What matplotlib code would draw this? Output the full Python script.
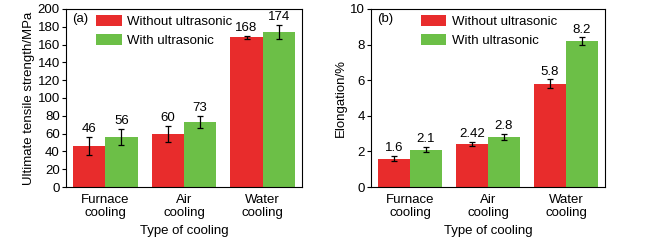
import numpy as np
import matplotlib
matplotlib.use("Agg")
from matplotlib import pyplot as plt
from matplotlib.patches import Patch

plt.rcParams["font.family"] = ["Liberation Sans", "DejaVu Sans"]
plt.rcParams["font.size"] = 9.5

categories = ["Furnace\ncooling", "Air\ncooling", "Water\ncooling"]
series_names = ["Without ultrasonic", "With ultrasonic"]

uts_without = [46, 60, 168]
uts_with = [56, 73, 174]
uts_err_without = [10, 9, 1.5]
uts_err_with = [9, 6.5, 8]
uts_labels_without = ["46", "60", "168"]
uts_labels_with = ["56", "73", "174"]

elong_without = [1.6, 2.42, 5.8]
elong_with = [2.1, 2.8, 8.2]
elong_err_without = [0.13, 0.1, 0.25]
elong_err_with = [0.15, 0.17, 0.2]
elong_labels_without = ["1.6", "2.42", "5.8"]
elong_labels_with = ["2.1", "2.8", "8.2"]

RED = "#e82c2c"
GREEN = "#6cbf47"


def draw_panel(ax, without, with_, err_wo, err_w, lab_wo, lab_w, ymax, ystep, ylabel, tag, pad, leg_x):
    x = np.arange(len(categories))
    w = 0.41
    for off, vals, errs, labs, color in [(-w / 2, without, err_wo, lab_wo, RED),
                                         (w / 2, with_, err_w, lab_w, GREEN)]:
        ax.bar(x + off, vals, width=w, color=color, edgecolor="none")
        ax.errorbar(x + off, vals, yerr=errs, fmt="none", ecolor="black",
                    elinewidth=0.9, capsize=2, capthick=0.9)
        for xi, v, e, t in zip(x + off, vals, errs, labs):
            ax.text(xi, v + e + pad, t, ha="center", va="bottom", fontsize=9.5)
    ax.set_xlim(-0.5, 2.5)
    ax.set_ylim(0, ymax)
    ax.set_yticks(np.arange(0, ymax + ystep / 2, ystep))
    ax.set_xticks(x)
    ax.set_xticklabels(categories, fontsize=9.5, linespacing=1.15)
    ax.tick_params(axis="x", length=0, pad=5)
    ax.tick_params(axis="y", direction="out", length=3, width=0.8, labelsize=9.5, pad=1.5)
    ax.set_ylabel(ylabel, fontsize=9.5, labelpad=2)
    ax.set_xlabel("Type of cooling", fontsize=9.5, labelpad=4)
    for s in ax.spines.values():
        s.set_linewidth(0.8)
    ax.text(0.025, 0.975, tag, transform=ax.transAxes, ha="left", va="top", fontsize=9.5)
    handles = [Patch(facecolor=RED, edgecolor="none"), Patch(facecolor=GREEN, edgecolor="none")]
    ax.legend(handles, series_names, loc="upper left", bbox_to_anchor=(leg_x, 1.02), frameon=False,
              fontsize=9.5, handlelength=1.9, handleheight=0.95, handletextpad=0.45,
              labelspacing=0.45, borderaxespad=0.3)


fig = plt.figure(figsize=(6.63, 2.46), dpi=100)
ax1 = fig.add_axes([66 / 663, 1 - 187 / 246, 236 / 663, 178 / 246])
ax2 = fig.add_axes([371 / 663, 1 - 187 / 246, 234 / 663, 178 / 246])

draw_panel(ax1, uts_without, uts_with, uts_err_without, uts_err_with,
           uts_labels_without, uts_labels_with, 200, 20,
           "Ultimate tensile strength/MPa", "(a)", 2, 0.09)
draw_panel(ax2, elong_without, elong_with, elong_err_without, elong_err_with,
           elong_labels_without, elong_labels_with, 10, 2,
           "Elongation/%", "(b)", 0.1, 0.175)

fig.savefig("out.png", dpi=100)
